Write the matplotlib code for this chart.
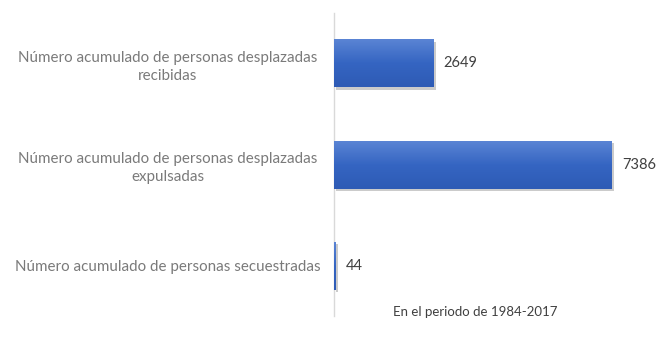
import numpy as np
import matplotlib.pyplot as plt
import matplotlib.patheffects as pe

# data (bottom to top)
categories = ["Número acumulado de personas secuestradas",
              "Número acumulado de personas desplazadas\nexpulsadas",
              "Número acumulado de personas desplazadas\nrecibidas"]
values = [44, 7386, 2649]
axis_title = "En el periodo de 1984-2017"

plt.rcParams['font.family'] = ['Lato', 'DejaVu Sans']

fig = plt.figure(figsize=(6.68, 3.41), dpi=100)
ax = fig.add_axes([0.5, 0.073, 0.422, 0.889])

y = np.arange(len(categories))
bars = ax.barh(y, values, height=0.475, color="#3F6BC8", zorder=2,
               path_effects=[pe.SimplePatchShadow(offset=(1.5, -1.5), shadow_rgbFace="#8c8c8c", alpha=0.45),
                             pe.Normal()])

# vertical gradient on each bar
grad = np.linspace(0, 1, 64).reshape(-1, 1)
cmap = plt.matplotlib.colors.LinearSegmentedColormap.from_list("g", ["#5A84D4", "#3565C2", "#2E5BB5"])
for b in bars:
    x0, y0 = b.get_x(), b.get_y()
    w, h = b.get_width(), b.get_height()
    im = ax.imshow(grad, cmap=cmap, aspect="auto", extent=[x0, x0 + w, y0, y0 + h],
                   origin="upper", zorder=3)
    im.set_clip_path(b)

for yi, v in zip(y, values):
    ax.text(v + 270, yi, str(v), va="center", ha="left", fontsize=10.5, color="#404040")

ax.set_xlim(0, 7500)
ax.set_ylim(-0.5, 2.5)
ax.set_yticks(y)
ax.set_yticklabels(categories, fontsize=10.9, color="#7a7a7a", ha="center",
                   linespacing=1.4)
# pad in points: label centres sit about 166 px left of the axis
ax.tick_params(axis="y", length=0, pad=119.5)
ax.tick_params(axis="x", bottom=False, labelbottom=False)
for s in ["top", "right", "bottom"]:
    ax.spines[s].set_visible(False)
ax.spines["left"].set_color("#D9D9D9")
ax.spines["left"].set_linewidth(1)

ax.set_xlabel(axis_title, fontsize=9.5, color="#404040", labelpad=-7)

fig.savefig("out.png", dpi=100)
